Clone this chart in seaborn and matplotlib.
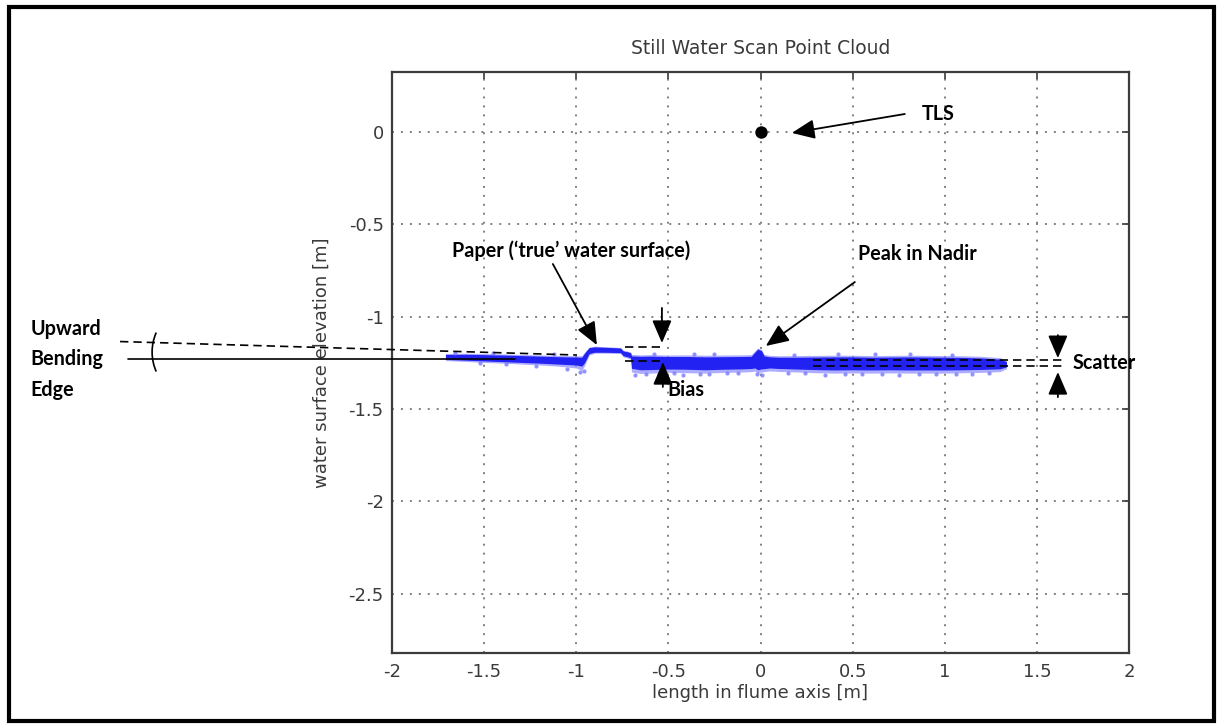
import numpy as np
import pandas as pd
import matplotlib
matplotlib.use("Agg")
import matplotlib.pyplot as plt
from matplotlib.patches import Arc, Rectangle
import seaborn as sns

# ---------------- data ----------------
x_ticks = [-2, -1.5, -1, -0.5, 0, 0.5, 1, 1.5, 2]
x_tick_labels = ["-2", "-1.5", "-1", "-0.5", "0", "0.5", "1", "1.5", "2"]
y_ticks = [-2.5, -2, -1.5, -1, -0.5, 0]
y_tick_labels = ["-2.5", "-2", "-1.5", "-1", "-0.5", "0"]

tls_x = [0.0]
tls_y = [0.0]

# point-cloud envelope (outer fuzzy edge and dense core)
cloud_x = [-1.71, -1.60, -1.50, -1.40, -1.30, -1.20, -1.10, -1.00, -0.97, -0.955,
           -0.93, -0.90, -0.85, -0.80, -0.76, -0.745, -0.72, -0.705, -0.70, -0.65,
           -0.60, -0.50, -0.40, -0.30, -0.20, -0.10, -0.05, -0.03, -0.015, 0.005,
           0.02, 0.05, 0.10, 0.20, 0.30, 0.40, 0.50, 0.60, 0.70, 0.80,
           0.90, 1.00, 1.10, 1.20, 1.30, 1.335]
cloud_top = [-1.200, -1.198, -1.200, -1.202, -1.205, -1.207, -1.210, -1.212, -1.212, -1.192,
             -1.165, -1.160, -1.163, -1.165, -1.167, -1.182, -1.187, -1.192, -1.205, -1.207,
             -1.206, -1.208, -1.207, -1.209, -1.208, -1.207, -1.206, -1.185, -1.170, -1.178,
             -1.205, -1.210, -1.212, -1.211, -1.210, -1.209, -1.209, -1.211, -1.210, -1.209,
             -1.210, -1.211, -1.212, -1.215, -1.222, -1.238]
cloud_bottom = [-1.238, -1.243, -1.248, -1.252, -1.257, -1.262, -1.268, -1.278, -1.292, -1.265,
                -1.208, -1.198, -1.198, -1.199, -1.200, -1.218, -1.225, -1.232, -1.300, -1.308,
                -1.306, -1.302, -1.304, -1.306, -1.302, -1.300, -1.298, -1.295, -1.308, -1.300,
                -1.298, -1.294, -1.297, -1.300, -1.304, -1.306, -1.305, -1.306, -1.305, -1.306,
                -1.306, -1.306, -1.304, -1.302, -1.298, -1.282]
core_top = [-1.205, -1.204, -1.206, -1.208, -1.211, -1.214, -1.217, -1.219, -1.220, -1.198,
            -1.168, -1.164, -1.166, -1.168, -1.170, -1.186, -1.191, -1.196, -1.213, -1.215,
            -1.214, -1.216, -1.216, -1.218, -1.217, -1.216, -1.215, -1.192, -1.176, -1.184,
            -1.213, -1.218, -1.220, -1.220, -1.219, -1.218, -1.218, -1.220, -1.219, -1.218,
            -1.219, -1.220, -1.221, -1.224, -1.230, -1.244]
core_bottom = [-1.232, -1.236, -1.240, -1.244, -1.248, -1.252, -1.257, -1.262, -1.268, -1.250,
               -1.200, -1.193, -1.193, -1.194, -1.195, -1.212, -1.218, -1.224, -1.280, -1.288,
               -1.287, -1.284, -1.285, -1.288, -1.285, -1.283, -1.281, -1.278, -1.288, -1.283,
               -1.282, -1.278, -1.281, -1.284, -1.287, -1.289, -1.288, -1.289, -1.288, -1.289,
               -1.289, -1.289, -1.288, -1.286, -1.283, -1.272]

# stray points around the cloud
stray_x = [-1.66, -1.52, -1.38, -1.22, -1.05, -0.98, -0.96, -0.68, -0.62, -0.55,
           -0.47, -0.42, -0.33, -0.28, -0.18, -0.12, -0.02, 0.01, 0.15, 0.24,
           0.35, 0.46, 0.55, 0.66, 0.75, 0.86, 0.95, 1.06, 1.15, 1.24,
           -0.58, -0.36, 0.18, 0.42, 0.81, 1.04, -1.45, -1.12, -0.25, 0.62]
stray_y = [-1.196, -1.252, -1.258, -1.268, -1.282, -1.298, -1.294, -1.314, -1.312, -1.310,
           -1.308, -1.316, -1.310, -1.312, -1.306, -1.308, -1.312, -1.318, -1.306, -1.304,
           -1.314, -1.310, -1.312, -1.309, -1.315, -1.310, -1.312, -1.309, -1.310, -1.306,
           -1.202, -1.204, -1.206, -1.204, -1.203, -1.206, -1.197, -1.205, -1.203, -1.205]

# ---------------- style ----------------
sns.set_style("white")
plt.rcParams["font.family"] = ["DejaVu Sans"]
plt.rcParams["axes.unicode_minus"] = False

fig = plt.figure(figsize=(12.2, 7.26), dpi=100)
fig.patch.set_facecolor("white")
ax = fig.add_axes([392 / 1220, 1 - 653 / 726, (1129 - 392) / 1220, (653 - 72) / 726])

# point cloud
ax.fill_between(cloud_x, cloud_bottom, cloud_top, color="#8a8aff", alpha=0.7, lw=0, zorder=3)
ax.fill_between(cloud_x, core_bottom, core_top, color="#1a1af2", alpha=0.95, lw=0, zorder=4)
sns.scatterplot(x=stray_x, y=stray_y, ax=ax, color="#7878ff", s=9, marker="o",
                linewidth=0, alpha=0.8, zorder=4, legend=False)

# TLS position
sns.scatterplot(x=tls_x, y=tls_y, ax=ax, color="black", s=80, linewidth=0,
                zorder=6, legend=False)

ax.set_xlim(-2, 2)
ax.set_ylim(-2.822, 0.325)
ax.set_xticks(x_ticks)
ax.set_xticklabels(x_tick_labels)
ax.set_yticks(y_ticks)
ax.set_yticklabels(y_tick_labels)

ax.grid(True, color="#808080", linestyle=(0, (1, 3.6)), linewidth=1.4)
ax.set_axisbelow(True)
for sp in ax.spines.values():
    sp.set_visible(True)
    sp.set_color("#3c3c3c")
    sp.set_linewidth(1.6)
ax.tick_params(direction="in", length=5, width=1.2, color="#3c3c3c",
               top=True, right=True, labelsize=13, labelcolor="#3a3a3a")
ax.tick_params(axis="x", pad=7)
ax.tick_params(axis="y", pad=6)

ax.set_title("Still Water Scan Point Cloud", fontsize=13.5, color="#3a3a3a", pad=13)
ax.set_xlabel("length in flume axis [m]", fontsize=13, color="#3a3a3a")
ax.set_ylabel("water surface elevation [m]", fontsize=13, color="#3a3a3a")
ax.xaxis.label.set_va("center")
ax.yaxis.label.set_va("center")
ax.xaxis.set_label_coords(0.5, -(693 - 653) / 581)
ax.yaxis.set_label_coords((322 - 392) / 737, 0.5)

# ---------------- annotations ----------------
bold = dict(family=["Lato", "DejaVu Sans"], fontweight="bold", fontsize=14.2, color="black")
arrow = dict(arrowstyle="-|>,head_length=0.7,head_width=0.3", color="black", lw=1.3,
             shrinkA=0, shrinkB=0, mutation_scale=20)

ax.text(0.876, 0.0975, "TLS", ha="left", va="center", **bold)
ax.annotate("", xy=(0.170, -0.005), xytext=(0.783, 0.0975), arrowprops=arrow,
            annotation_clip=False, zorder=7)

ax.text(-0.383, -0.645, "Paper (\u2018true\u2019 water surface)", ha="right", va="center", **bold)
ax.annotate("", xy=(-0.888, -1.154), xytext=(-1.127, -0.715), arrowprops=arrow,
            annotation_clip=False, zorder=7)

ax.text(0.528, -0.661, "Peak in Nadir", ha="left", va="center", **bold)
ax.annotate("", xy=(0.029, -1.159), xytext=(0.512, -0.8126), arrowprops=arrow,
            annotation_clip=False, zorder=7)

# bias
dash = dict(color="black", lw=1.2, linestyle=(0, (5, 3)), clip_on=False, zorder=7)
ax.plot([-0.738, -0.52], [-1.167, -1.167], **dash)
ax.plot([-0.738, -0.53], [-1.241, -1.241], **dash)
ax.annotate("", xy=(-0.535, -1.143), xytext=(-0.535, -0.953), arrowprops=arrow,
            annotation_clip=False, zorder=7)
ax.annotate("", xy=(-0.530, -1.246), xytext=(-0.530, -1.381), arrowprops=arrow,
            annotation_clip=False, zorder=7)
ax.text(-0.508, -1.398, "Bias", ha="left", va="center", **bold)

# scatter
ax.plot([0.284, 1.636], [-1.237, -1.237], **dash)
ax.plot([0.284, 1.636], [-1.268, -1.268], **dash)
ax.annotate("", xy=(1.614, -1.225), xytext=(1.614, -1.10), arrowprops=arrow,
            annotation_clip=False, zorder=7)
ax.annotate("", xy=(1.614, -1.30), xytext=(1.614, -1.436), arrowprops=arrow,
            annotation_clip=False, zorder=7)
ax.text(1.695, -1.251, "Scatter", ha="left", va="center", zorder=8, **bold)

# upward bending edge
ax.plot([-3.432, -1.333], [-1.232, -1.232], color="black", lw=1.2, clip_on=False, zorder=7)
ax.plot([-3.476, -0.996], [-1.135, -1.208], **dash)
ax.add_patch(Arc((-3.042, -1.192), 0.52, 0.52, theta1=156, theta2=204,
                 color="black", lw=1.2, clip_on=False, zorder=7))
ax.text(-3.964, -1.232, "Upward\nBending\nEdge", ha="left", va="center",
        linespacing=1.68, **bold)

# figure frame
fig.add_artist(Rectangle((9 / 1220, 5 / 726), (1214 - 9) / 1220, (719 - 5) / 726,
                         transform=fig.transFigure, fill=False, edgecolor="black",
                         lw=3, zorder=10))

fig.savefig("out.png", dpi=100, facecolor="white")
